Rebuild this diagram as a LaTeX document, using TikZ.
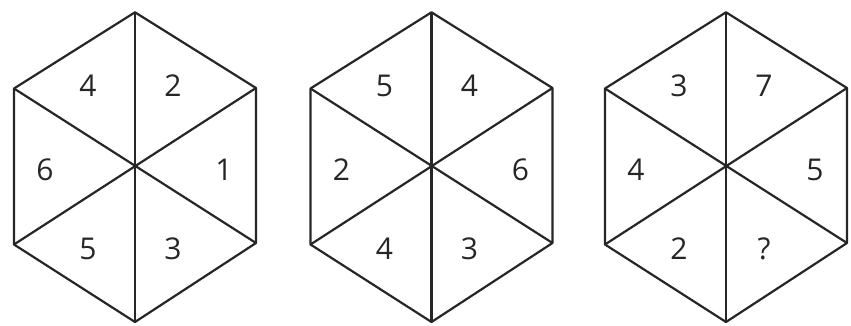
\documentclass[tikz,border=0pt]{standalone}
\usepackage{fontspec}
\setmainfont{Open Sans}
\tikzset{
  edge/.style={draw=black!85, line width=2.2pt, line join=round},
  num/.style={font=\fontsize{30}{30}\selectfont, text=black!85, inner sep=0pt}
}
\begin{document}
\begin{tikzpicture}[x=1pt,y=-1pt]
\useasboundingbox (0,0) rectangle (851,326);
\foreach \i/\cx/\a/\b/\c/\d/\e/\f in {1/135/4/2/6/1/5/3, 2/431.5/5/4/2/6/4/3, 3/726/3/7/4/5/2/?}{
  \coordinate (T\i) at (\cx,12.3);
  \coordinate (UR\i) at ({\cx+121},88);
  \coordinate (LR\i) at ({\cx+121},243);
  \coordinate (B\i) at (\cx,322);
  \coordinate (LL\i) at ({\cx-121},244.5);
  \coordinate (UL\i) at ({\cx-121},88.5);
  \coordinate (C\i) at (\cx,167);
  \draw[edge] (T\i) -- (UR\i) -- (LR\i) -- (B\i) -- (LL\i) -- (UL\i) -- cycle;
  \draw[edge] (T\i) -- (B\i);
  \draw[edge] (UL\i) -- (LR\i);
  \draw[edge] (UR\i) -- (LL\i);
  \node[num] (nA\i) at ({\cx-47},86) {\a};
  \node[num] (nB\i) at ({\cx+38},86) {\b};
  \node[num] (nC\i) at ({\cx-90},170) {\c};
  \node[num] (nD\i) at ({\cx+89},170) {\d};
  \node[num] (nE\i) at ({\cx-47},249) {\e};
  \node[num] (nF\i) at ({\cx+38},249) {\f};
}
\end{tikzpicture}
\end{document}
